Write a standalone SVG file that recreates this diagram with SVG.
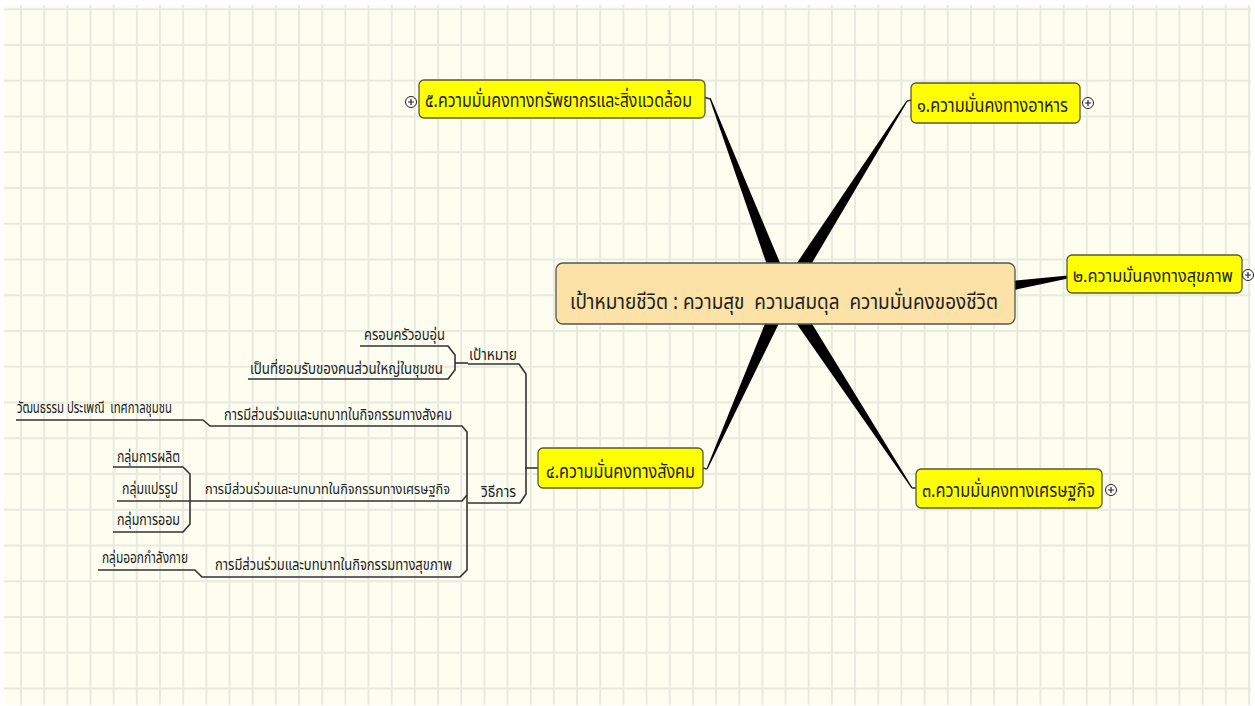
<svg xmlns="http://www.w3.org/2000/svg" width="1255" height="706" viewBox="0 0 1255 706">
<style>
.th{font-family:"Noto Sans Thai","Noto Sans","DejaVu Sans",sans-serif;fill:#222;white-space:pre}
.big{font-size:20px}
.sm{font-size:15px}
.yn{fill:#ffff00;stroke:#5a5a30;stroke-width:1.3}
.ln{fill:none;stroke:#333;stroke-width:1.6;stroke-linejoin:round}
.plus circle{fill:#fff;stroke:#222;stroke-width:1}
.plus path{stroke:#222;stroke-width:1.2}
</style>
<defs>
<pattern id="grid" x="20" y="8.25" width="23.17" height="35.75" patternUnits="userSpaceOnUse">
<rect x="0" y="0" width="2" height="35.75" fill="#e7ebdf"/>
<rect x="0" y="0" width="23.17" height="2" fill="#e7ebdf"/>
</pattern>
</defs>
<rect width="1255" height="706" fill="#fff"/>
<rect x="4" y="5" width="1247" height="700" fill="#fdfdf0"/>
<rect x="4" y="5" width="1247" height="700" fill="url(#grid)"/>

<g id="connectors">
<polygon points="792,291.3 710.6,97.8 709.4,98.2 778,296.7" fill="#000"/>
<polygon points="791.3,298 907.5,101.3 906.5,100.7 778.7,290" fill="#000"/>
<polygon points="791.8,297.1 707.5,469.2 706.5,468.8 778.2,290.9" fill="#000"/>
<polygon points="791.3,289.9 912.5,487.7 911.5,488.3 778.7,298.1" fill="#000"/>
<polygon points="1000,282 1000,293 1068,278.5 1068,275.5" fill="#000"/>
<path class="ln" d="M704,97 L710,99"/>
<path class="ln" d="M907,101 L912,100"/>
<path class="ln" d="M912,488 L917,488"/>
<path class="ln" d="M703,468 L707,469"/>
<path class="ln" d="M538,468 L525,468"/>
<path class="ln" d="M468,364 L519,364 L526,374 L526,494 L520,503 L468,503"/>
<path class="ln" d="M360,346 L448,346 L455,355 L455,370 L448,379 L248,379"/>
<path class="ln" d="M455,363 L468,363"/>
<path class="ln" d="M16,420 L203,420 L210,426 L462,426 L467,432 L467,570 L460,577 L202,577 L195,570 L98,570"/>
<path class="ln" d="M467,495 L462,501 L193,501"/>
<path class="ln" d="M113,467 L183,467 L190,474 L190,524 L183,532 L113,532"/>
<path class="ln" d="M117,501 L193,501"/>
</g>

<g id="center">
<rect x="556" y="263" width="459" height="61" rx="7" fill="#fde2a7" stroke="#555" stroke-width="1.3"/>
<text class="th" x="570" y="309" font-size="22" fill="#333" textLength="428" lengthAdjust="spacingAndGlyphs">เป้าหมายชีวิต : ความสุข  ความสมดุล  ความมั่นคงของชีวิต</text>
</g>

<g id="node5">
<rect class="yn" x="419" y="80" width="286" height="38" rx="5"/>
<text class="th big" x="425" y="107" textLength="267" lengthAdjust="spacingAndGlyphs">๕.ความมั่นคงทางทรัพยากรและสิ่งแวดล้อม</text>
<g class="plus"><circle cx="411" cy="102" r="5.5"/><path d="M408,102h6M411,99v6"/></g>
</g>

<g id="node1">
<rect class="yn" x="911" y="83" width="169" height="40" rx="5"/>
<text class="th big" x="917" y="112" textLength="151" lengthAdjust="spacingAndGlyphs">๑.ความมั่นคงทางอาหาร</text>
<g class="plus"><circle cx="1088" cy="103" r="5.5"/><path d="M1085,103h6M1088,100v6"/></g>
</g>

<g id="node2">
<rect class="yn" x="1067" y="255" width="175" height="38" rx="5"/>
<text class="th" x="1073" y="282" font-size="17" textLength="160" lengthAdjust="spacingAndGlyphs">๒.ความมั่นคงทางสุขภาพ</text>
<g class="plus"><circle cx="1248" cy="275" r="5.5"/><path d="M1245,275h6M1248,272v6"/></g>
</g>

<g id="node3">
<rect class="yn" x="916" y="469" width="186" height="39" rx="5"/>
<text class="th big" x="922" y="497" textLength="173" lengthAdjust="spacingAndGlyphs">๓.ความมั่นคงทางเศรษฐกิจ</text>
<g class="plus"><circle cx="1111" cy="490" r="5.5"/><path d="M1108,490h6M1111,487v6"/></g>
</g>

<g id="node4">
<rect class="yn" x="538" y="448" width="165" height="40" rx="5"/>
<text class="th big" x="546" y="478" textLength="149" lengthAdjust="spacingAndGlyphs">๔.ความมั่นคงทางสังคม</text>
</g>

<g id="goal"><text class="th sm" x="469" y="360" textLength="48" lengthAdjust="spacingAndGlyphs">เป้าหมาย</text></g>
<g id="family"><text class="th sm" x="364" y="340" textLength="81" lengthAdjust="spacingAndGlyphs">ครอบครัวอบอุ่น</text></g>
<g id="accepted"><text class="th sm" x="250" y="374" textLength="193" lengthAdjust="spacingAndGlyphs">เป็นที่ยอมรับของคนส่วนใหญ่ในชุมชน</text></g>
<g id="method"><text class="th sm" x="481" y="497" textLength="35" lengthAdjust="spacingAndGlyphs">วิธีการ</text></g>
<g id="social"><text class="th sm" x="224" y="420" textLength="228" lengthAdjust="spacingAndGlyphs">การมีส่วนร่วมและบทบาทในกิจกรรมทางสังคม</text></g>
<g id="culture"><text class="th sm" x="17" y="413" textLength="155" lengthAdjust="spacingAndGlyphs">วัฒนธรรม ประเพณี  เทศกาลชุมชน</text></g>
<g id="economic"><text class="th" x="205" y="494" font-size="14" textLength="245" lengthAdjust="spacingAndGlyphs">การมีส่วนร่วมและบทบาทในกิจกรรมทางเศรษฐกิจ</text></g>
<g id="production"><text class="th sm" x="117" y="462" textLength="63" lengthAdjust="spacingAndGlyphs">กลุ่มการผลิต</text></g>
<g id="processing"><text class="th sm" x="122" y="494" textLength="56" lengthAdjust="spacingAndGlyphs">กลุ่มแปรรูป</text></g>
<g id="saving"><text class="th sm" x="117" y="525" textLength="63" lengthAdjust="spacingAndGlyphs">กลุ่มการออม</text></g>
<g id="health"><text class="th sm" x="215" y="570" textLength="237" lengthAdjust="spacingAndGlyphs">การมีส่วนร่วมและบทบาทในกิจกรรมทางสุขภาพ</text></g>
<g id="exercise"><text class="th sm" x="102" y="563" textLength="86" lengthAdjust="spacingAndGlyphs">กลุ่มออกกำลังกาย</text></g>
</svg>
